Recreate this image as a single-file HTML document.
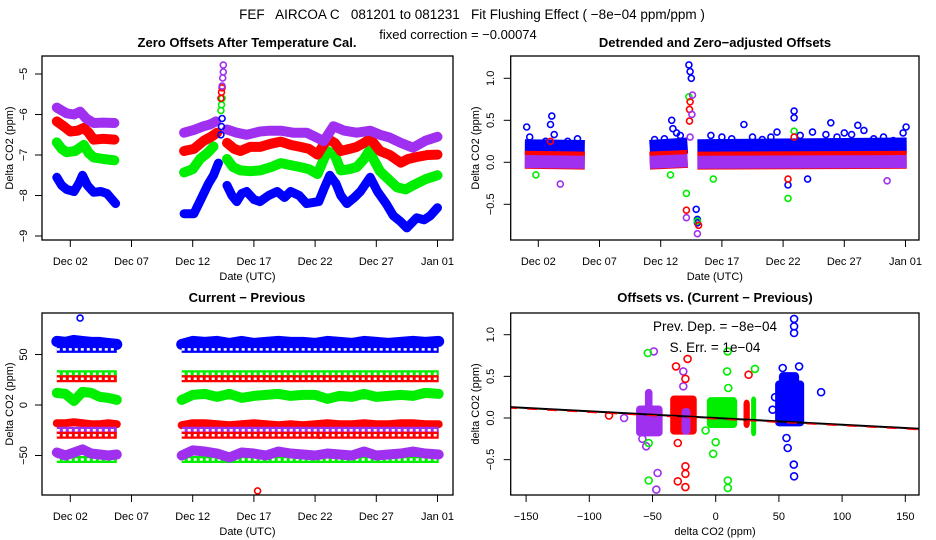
<!DOCTYPE html>
<html><head><meta charset="utf-8">
<style>
html,body{margin:0;padding:0;background:#fff;}
svg{display:block;font-family:"Liberation Sans",sans-serif;}
</style></head>
<body>
<svg id="chart" width="936" height="540" viewBox="0 0 936 540" xmlns="http://www.w3.org/2000/svg">
<rect width="936" height="540" fill="#fff"/>
<text x="472" y="19" font-size="13.5" text-anchor="middle" xml:space="preserve">FEF   AIRCOA C   081201 to 081231   Fit Flushing Effect ( −8e−04 ppm/ppm )</text>
<text x="458" y="39" font-size="13" text-anchor="middle">fixed correction = −0.00074</text>
<g id="layer"></g>
</svg>
<script>
// ---------- Data ----------
// Panel 1: Zero offsets (day of December, value ppm)
const tlBlueT  = [0.9,1.3,1.7,2.3,2.7,3.0,3.4,3.9,4.5,5.0,5.7,null,11.3,12.1,12.5,12.9,13.3,13.7,14.1,null,14.8,15.2,15.6,16.0,16.4,17.0,17.5,18.2,18.9,19.5,20.0,20.7,21.3,22.3,22.7,23.2,23.7,24.1,24.6,25.2,25.7,26.5,27.1,27.8,28.4,29.0,29.5,30.3,30.9,31.4,32.0];
const tlBlueV  = [-7.55,-7.75,-7.85,-7.9,-7.7,-7.5,-7.75,-7.92,-7.9,-7.95,-8.2,null,-8.45,-8.45,-8.2,-7.95,-7.7,-7.5,-7.2,null,-7.75,-8.0,-8.15,-7.95,-7.9,-8.1,-8.15,-8.0,-7.9,-8.05,-7.9,-8.0,-8.2,-8.15,-7.85,-7.5,-7.7,-8.0,-8.2,-8.05,-7.9,-7.55,-7.9,-8.2,-8.5,-8.65,-8.8,-8.55,-8.6,-8.5,-8.3];
const tlRedT   = [0.9,1.5,2.0,2.6,3.1,3.5,3.9,4.7,5.6,null,11.3,12.1,12.9,13.5,14.0,null,14.8,15.4,15.9,16.7,17.5,18.4,19.2,20.0,20.8,21.5,22.2,23.0,23.6,24.1,24.8,25.4,26.0,26.5,27.3,28.1,29.0,29.6,30.3,31.2,32.0];
const tlRedV   = [-6.17,-6.3,-6.42,-6.4,-6.33,-6.45,-6.62,-6.6,-6.62,null,-6.9,-6.85,-6.65,-6.55,-6.45,null,-6.7,-6.85,-6.9,-6.8,-6.8,-6.72,-6.67,-6.75,-6.8,-6.85,-6.99,-6.6,-6.7,-6.9,-6.85,-6.8,-6.7,-6.6,-6.9,-7.0,-7.19,-7.1,-7.05,-7.0,-6.99];
const tlGreenT = [0.9,1.3,1.7,2.4,3.1,3.5,3.9,4.7,5.6,null,11.3,12.0,12.6,13.2,13.7,null,14.8,15.3,15.9,16.7,17.5,18.4,19.2,20.0,20.8,21.5,22.2,23.0,23.6,24.1,24.8,25.4,26.0,26.4,27.3,28.0,28.7,29.4,30.0,31.0,32.0];
const tlGreenV = [-6.69,-6.85,-6.93,-6.9,-6.75,-6.95,-7.06,-7.1,-7.13,null,-7.43,-7.35,-7.1,-6.95,-6.79,null,-7.1,-7.3,-7.38,-7.4,-7.38,-7.3,-7.2,-7.25,-7.3,-7.35,-7.47,-6.9,-7.0,-7.38,-7.35,-7.3,-7.1,-6.9,-7.4,-7.6,-7.8,-7.85,-7.75,-7.6,-7.5];
const tlPurpT  = [0.9,1.3,1.7,2.3,2.8,3.3,3.9,4.7,5.6,null,11.3,12.1,12.9,13.4,13.9,null,14.8,15.6,16.4,17.5,18.3,19.2,20.2,21.3,22.0,22.7,23.5,24.4,25.4,26.5,27.3,28.1,29.0,30.0,31.0,32.0];
const tlPurpV  = [-5.83,-5.9,-5.97,-6.0,-5.93,-6.1,-6.21,-6.2,-6.21,null,-6.45,-6.38,-6.29,-6.25,-6.17,null,-6.37,-6.45,-6.5,-6.42,-6.4,-6.4,-6.45,-6.45,-6.55,-6.66,-6.29,-6.4,-6.45,-6.4,-6.5,-6.57,-6.7,-6.82,-6.65,-6.55];
// spike points near Dec 14.4
const tlSpikeT = [14.3,14.35,14.4,14.45,14.5,14.5];
const tlSpikeBlueV = [-6.5,-6.3,-6.1];
const tlSpikeGreenV = [-5.9,-5.76,-5.6];
const tlSpikeRedV = [-5.6,-5.45,-5.34];
const tlSpikePurpV = [-5.3,-5.1,-4.95,-4.78];

// Panel 2: Detrended offsets – band centres and outliers
const trBandT  = [0.9,5.8,null,11.1,14.2,null,15.0,32.1];
const trBlueV  = [0.18,0.17,null,0.17,0.2,null,0.18,0.2];
const trRestV  = [0.03,0.02,null,0.02,0.04,null,0.02,0.03];
const trBlueOutT = [1.05,3.1,3.0,12.9,14.3,14.4,14.5,14.9,15.0,15.0,18.8,22.9,22.9,22.4,25.9,28.1,32.05,21.5,24.0,13.3,27.0,1.3,2.6,3.3,4.4,5.2,11.5,12.3,13.0,13.6,16.1,17.0,17.8,19.5,20.3,21.0,23.4,24.4,25.5,26.4,27.6,28.6,29.4,30.2,31.0,31.8];
const trBlueOutV = [0.42,0.55,0.45,0.5,1.16,1.08,1.0,-0.56,-0.68,-0.72,0.45,0.61,0.53,-0.27,0.47,0.44,0.42,0.36,-0.2,0.35,0.35,0.3,0.25,0.33,0.25,0.28,0.27,0.28,0.4,0.32,0.32,0.3,0.28,0.3,0.27,0.3,0.32,0.36,0.33,0.3,0.33,0.38,0.28,0.3,0.26,0.35];
const trGreenOutT = [14.3,14.1,15.0,22.4,22.9,16.3,1.8,12.8];
const trGreenOutV = [0.78,-0.37,-0.7,-0.43,0.37,-0.2,-0.15,-0.15];
const trRedOutT = [14.4,14.35,14.35,14.1,15.1,3.0,22.4,22.9];
const trRedOutV = [0.72,0.63,0.49,-0.57,-0.75,0.25,-0.2,0.3];
const trPurpOutT = [14.6,14.55,14.4,14.1,15.0,3.8,30.5];
const trPurpOutV = [0.8,0.57,0.3,-0.66,-0.85,-0.26,-0.22];

// Panel 3: Current - Previous
const blSegT = [0.9,5.8,null,11.1,32.1];
const blBlueRowV  = [55,55,null,55,55];
const blGreenRowV = [31,31,null,31,31];
const blRedRowV   = [26,26,null,26,26];
const blRedLowV   = [-25,-25,null,-25,-25];
const blRedLow2V  = [-30,-30,null,-30,-30];
const blGreenLowV = [-54,-54,null,-54,-54];
const blWaveT = [0.9,1.6,2.3,3.0,3.7,4.4,5.1,5.8,null,11.1,12.0,13.0,14.0,15.0,16.0,17.0,18.0,19.0,20.0,21.0,22.0,23.0,24.0,25.0,26.0,27.0,28.0,29.0,30.0,31.0,32.1];
const blBlueV  = [63,62,64,63,62,62,61,60,null,60,63,62,63,61,63,61,62,63,62,62,61,63,62,61,63,62,61,62,63,62,63];
const blGreenV = [12,11,4,13,12,8,7,5,null,5,10,11,8,11,7,9,10,11,9,10,10,6,9,8,11,8,9,10,9,12,11];
const blRedV   = [-18,-18,-17,-18,-19,-19,-18,-19,null,-20,-18,-18,-19,-20,-19,-18,-19,-20,-19,-20,-19,-18,-19,-19,-18,-19,-19,-18,-18,-19,-19];
const blPurpV  = [-47,-50,-47,-44,-48,-49,-50,-49,null,-50,-45,-46,-48,-52,-47,-48,-50,-46,-48,-49,-50,-48,-49,-50,-46,-50,-49,-48,-46,-48,-49];
const blOutT = [2.8,17.3,22.4];
const blOutV = [86,-85,-30];

// Panel 4: Offsets vs (Current - Previous)
// dense clusters: x range, y range
const brClusterColor = ['purple','purple','red','purple','green','red','green','blue','blue'];
const brClusterX0 = [-63,-56,-36,-27,-7,22,28,47,50];
const brClusterX1 = [-42,-50,-15,-20,17,27,32,70,66];
const brClusterY0 = [-0.22,0.1,-0.2,-0.2,-0.12,-0.12,-0.22,-0.1,0.3];
const brClusterY1 = [0.15,0.35,0.27,0.12,0.25,0.22,0.26,0.45,0.55];
const brBlueX = [62,62,53,62,83.4,56,57,61.8,62,47,66,45];
const brBlueY = [1.02,1.19,0.6,1.1,0.31,-0.24,-0.36,-0.56,-0.7,0.25,0.62,0.1];
const brPurpX = [-49,-47,-46,-25.6,-25.6,-72.5,-55,-58];
const brPurpY = [0.8,-0.86,-0.66,0.38,0.56,0.0,-0.34,-0.25];
const brRedX = [-22.2,-31.4,-24,26,-84.4,-24,-24,-30,-24,-30];
const brRedY = [0.71,0.62,0.47,0.52,0.03,-0.58,-0.67,-0.76,-0.83,-0.3];
const brGreenX = [-53.7,9.4,9,10,31,-53,9.6,9.6,-2,0,-8,-53];
const brGreenY = [0.78,0.8,0.56,0.36,0.59,-0.75,-0.75,-0.84,-0.43,-0.29,-0.15,-0.3];
const brFitX = [-165,165];
const brSlope = -0.0008;
const brIntercept = 0.0;

// ---------- Scales ----------
const P = {
  tl:{x0:42,x1:453,y0:56,y1:240, xs:d=>70.3+(d-2)*12.24, ys:v=>74+(-5-v)*40.5},
  tr:{x0:510.7,x1:919,y0:56,y1:240, xs:d=>538.3+(d-2)*12.24, ys:v=>162.3-v*84},
  bl:{x0:42,x1:453,y0:313,y1:495, xs:d=>70.3+(d-2)*12.24, ys:v=>405-v*1.01},
  br:{x0:510.7,x1:919,y0:313,y1:495, xs:v=>715.7+v*1.264, ys:v=>418-v*83.3}
};
const NS='http://www.w3.org/2000/svg';
const layer=document.getElementById('layer');
const C={blue:'#0000ff',red:'#ff0000',green:'#00ee00',purple:'#a030f0'};
function mk(tag,attrs,parent){const e=document.createElementNS(NS,tag);for(const k in attrs)e.setAttribute(k,attrs[k]);(parent||layer).appendChild(e);return e;}

function clip(id,p){const cp=mk('clipPath',{id:id});mk('rect',{x:p.x0,y:p.y0,width:p.x1-p.x0,height:p.y1-p.y0},cp);}
clip('c-tl',P.tl);clip('c-tr',P.tr);clip('c-bl',P.bl);clip('c-br',P.br);

function pathD(p,T,V){let d='',pen=false;for(let i=0;i<T.length;i++){if(T[i]===null||V[i]===null){pen=false;continue;}d+=(pen?'L':'M')+p.xs(T[i]).toFixed(1)+' '+p.ys(V[i]).toFixed(1)+' ';pen=true;}return d;}

function band(g,p,T,V,color,w,name,cap){
  const e=mk('path',{d:pathD(p,T,V),fill:'none',stroke:color,'stroke-width':w,'stroke-linejoin':'round','stroke-linecap':cap||'round'},g);
  
  
  return e;
}
function ringRow(g,p,T,V,color,name){
  band(g,p,T,V,color,7,name,'butt');
  const b=mk('path',{d:pathD(p,T,V),fill:'none',stroke:'#fff','stroke-width':2.5,'stroke-dasharray':'3 3'},g);
  
  
}
function points(g,p,X,Y,color,name,r){
  for(let i=0;i<Y.length;i++){if(X[i]===null)continue;
    const c=mk('circle',{cx:p.xs(X[i]).toFixed(1),cy:p.ys(Y[i]).toFixed(1),r:r||3,fill:'none',stroke:color,'stroke-width':1.6},g);
    
    
  }
}

function frame(p,name){
  const r=mk('rect',{x:p.x0,y:p.y0,width:p.x1-p.x0,height:p.y1-p.y0,fill:'none',stroke:'#000','stroke-width':1.3});
  
  
}
function txt(x,y,s,opts,name){
  const t=mk('text',Object.assign({x:x,y:y,'font-size':11,'text-anchor':'middle'},opts||{}));
  t.textContent=s;
  
  
  return t;
}
const dateTicks=[2,7,12,17,22,27,32];
const dateLabels=['Dec 02','Dec 07','Dec 12','Dec 17','Dec 22','Dec 27','Jan 01'];
function xAxisDates(p,ly,ty,title){
  dateTicks.forEach((d,i)=>{const x=p.xs(d);
    const l=mk('line',{x1:x,x2:x,y1:p.y1,y2:p.y1+7,stroke:'#000','stroke-width':1});
    
    
    txt(x,ly,dateLabels[i],{},'x-tick-label');});
  txt((p.x0+p.x1)/2,ty,title,{},'x-axis-title');
}
function yAxis(p,vals,labels,lx,title,tx){
  vals.forEach((v,i)=>{const y=p.ys(v);
    const l=mk('line',{x1:p.x0-7,x2:p.x0,y1:y,y2:y,stroke:'#000','stroke-width':1});
    
    
    txt(lx,y,labels[i],{transform:`rotate(-90 ${lx} ${y})`},'y-tick-label');});
  const cy=(p.y0+p.y1)/2;
  txt(tx,cy,title,{transform:`rotate(-90 ${tx} ${cy})`},'y-axis-title');
}

// ---------- Panel 1 ----------
{const p=P.tl;const g=mk('g',{'clip-path':'url(#c-tl)'});
 band(g,p,tlBlueT,tlBlueV,C.blue,9,'zero-offset-blue-band');points(g,p,tlBlueT,tlBlueV,C.blue,'zero-offset-blue-point');
 band(g,p,tlGreenT,tlGreenV,C.green,10,'zero-offset-green-band');points(g,p,tlGreenT,tlGreenV,C.green,'zero-offset-green-point');
 band(g,p,tlRedT,tlRedV,C.red,10,'zero-offset-red-band');points(g,p,tlRedT,tlRedV,C.red,'zero-offset-red-point');
 band(g,p,tlPurpT,tlPurpV,C.purple,10,'zero-offset-purple-band');points(g,p,tlPurpT,tlPurpV,C.purple,'zero-offset-purple-point');
 points(g,p,tlSpikeT,tlSpikeBlueV,C.blue,'zero-offset-blue-spike');
 points(g,p,tlSpikeT,tlSpikeGreenV,C.green,'zero-offset-green-spike');
 points(g,p,tlSpikeT,tlSpikeRedV,C.red,'zero-offset-red-spike');
 points(g,p,tlSpikeT.slice(2),tlSpikePurpV,C.purple,'zero-offset-purple-spike');
 frame(p,'zero-offsets-frame');
 txt(247,47,'Zero Offsets After Temperature Cal.',{'font-size':13,'font-weight':'bold'},'zero-offsets-title');
 xAxisDates(p,265,280,'Date (UTC)');
 yAxis(p,[-5,-6,-7,-8,-9],['−5','−6','−7','−8','−9'],27,'Delta CO2 (ppm)',13);
}
// ---------- Panel 2 ----------
{const p=P.tr;const g=mk('g',{'clip-path':'url(#c-tr)'});
 band(g,p,trBandT,trBlueV,C.blue,16,'detrended-blue-band','butt');
 points(g,p,trBlueOutT,trBlueOutV,C.blue,'detrended-blue-outlier');
 band(g,p,trBandT,trRestV,C.red,18,'detrended-red-band','butt');
 band(g,p,trBandT,trRestV.map(v=>v===null?null:v-0.02),C.purple,13,'detrended-purple-band','butt');
 points(g,p,trGreenOutT,trGreenOutV,C.green,'detrended-green-outlier');
 points(g,p,trRedOutT,trRedOutV,C.red,'detrended-red-outlier');
 points(g,p,trPurpOutT,trPurpOutV,C.purple,'detrended-purple-outlier');
 frame(p,'detrended-frame');
 txt(715,47,'Detrended and Zero−adjusted Offsets',{'font-size':13,'font-weight':'bold'},'detrended-title');
 xAxisDates(p,265,280,'Date (UTC)');
 yAxis(p,[1,0.5,0,-0.5],['1.0','0.5','0.0','−0.5'],494,'Delta CO2 (ppm)',479);
}
// ---------- Panel 3 ----------
{const p=P.bl;const g=mk('g',{'clip-path':'url(#c-bl)'});
 band(g,p,blWaveT,blBlueV,C.blue,11,'diff-blue-band');
 ringRow(g,p,blSegT,blBlueRowV,C.blue,'diff-blue-row');
 ringRow(g,p,blSegT,blGreenRowV,C.green,'diff-green-row');
 ringRow(g,p,blSegT,blRedRowV,C.red,'diff-red-row');
 band(g,p,blWaveT,blGreenV,C.green,10,'diff-green-band');points(g,p,blWaveT,blGreenV,C.green,'diff-green-point');
 band(g,p,blWaveT,blRedV,C.red,8,'diff-red-band');
 ringRow(g,p,blSegT,blRedLowV,C.purple,'diff-purple-row');
 ringRow(g,p,blSegT,blRedLow2V,C.red,'diff-red-low-row');
 ringRow(g,p,blSegT,blGreenLowV,C.green,'diff-green-low-row');
 band(g,p,blWaveT,blPurpV,C.purple,10,'diff-purple-band');points(g,p,blWaveT,blPurpV,C.purple,'diff-purple-point');
 points(g,p,blOutT.slice(0,1),blOutV.slice(0,1),C.blue,'diff-blue-outlier');
 points(g,p,blOutT.slice(1,3),blOutV.slice(1,3),C.red,'diff-red-outlier');
 frame(p,'diff-frame');
 txt(247,302,'Current − Previous',{'font-size':13,'font-weight':'bold'},'diff-title');
 xAxisDates(p,520,535,'Date (UTC)');
 yAxis(p,[50,0,-50],['50','0','−50'],27,'Delta CO2 (ppm)',13);
}
// ---------- Panel 4 ----------
{const p=P.br;const g=mk('g',{'clip-path':'url(#c-br)'});
 for(let i=0;i<brClusterX0.length;i++){
   const x=p.xs(brClusterX0[i]),x2=p.xs(brClusterX1[i]),y=p.ys(brClusterY1[i]),y2=p.ys(brClusterY0[i]);
   const r=mk('rect',{x:x,y:y,width:x2-x,height:y2-y,rx:4,fill:C[brClusterColor[i]]},g);
   
   
 }
 points(g,p,brPurpX,brPurpY,C.purple,'scatter-purple-point',3.5);
 points(g,p,brRedX,brRedY,C.red,'scatter-red-point',3.5);
 points(g,p,brGreenX,brGreenY,C.green,'scatter-green-point',3.5);
 points(g,p,brBlueX,brBlueY,C.blue,'scatter-blue-point',3.5);
 const fy=brFitX.map(x=>brIntercept+brSlope*x);
 const fl=mk('line',{x1:p.xs(brFitX[0]),y1:p.ys(fy[0]),x2:p.xs(brFitX[1]),y2:p.ys(fy[1]),stroke:'#000','stroke-width':2},g);
 
 
 const fd=mk('line',{x1:p.xs(brFitX[0]),y1:p.ys(fy[0])+1,x2:p.xs(brFitX[1]),y2:p.ys(fy[1])+1,stroke:'#ff0000','stroke-width':1.2,'stroke-dasharray':'10 10'},g);
 
 
 frame(p,'scatter-frame');
 txt(715,302,'Offsets vs. (Current − Previous)',{'font-size':13,'font-weight':'bold'},'scatter-title');
 txt(715,331,'Prev. Dep. =  −8e−04',{'font-size':13.5},'prev-dep-annotation');
 txt(715,352,'S. Err. = 1e−04',{'font-size':13.5},'std-err-annotation');
 [-150,-100,-50,0,50,100,150].forEach(v=>{const x=p.xs(v);
   const l=mk('line',{x1:x,x2:x,y1:p.y1,y2:p.y1+7,stroke:'#000','stroke-width':1});
   
   
   txt(x,520,v<0?'−'+(-v):String(v),{},'x-tick-label');});
 txt(715,535,'delta CO2 (ppm)',{},'x-axis-title');
 yAxis(p,[1,0.5,0,-0.5],['1.0','0.5','0.0','−0.5'],494,'delta CO2 (ppm)',479);
}
</script>
</body></html>
